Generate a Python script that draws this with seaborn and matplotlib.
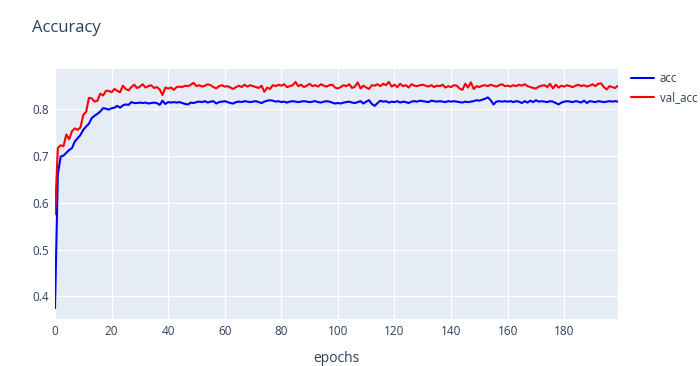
import numpy as np
import pandas as pd
import matplotlib
matplotlib.use("Agg")
import matplotlib.pyplot as plt
import seaborn as sns

acc = [
    0.375, 0.660, 0.698, 0.700, 0.706, 0.712, 0.716, 0.730, 0.737, 0.744,
    0.755, 0.762, 0.768, 0.780, 0.785, 0.789, 0.794, 0.801, 0.800, 0.798,
    0.801, 0.802, 0.806, 0.802, 0.807, 0.809, 0.808, 0.814, 0.812, 0.812,
    0.813, 0.812, 0.813, 0.811, 0.812, 0.813, 0.812, 0.808, 0.817, 0.810,
    0.814, 0.813, 0.814, 0.813, 0.814, 0.812, 0.810, 0.809, 0.813, 0.812,
    0.814, 0.815, 0.814, 0.816, 0.813, 0.815, 0.816, 0.811, 0.814, 0.815,
    0.816, 0.814, 0.812, 0.811, 0.814, 0.815, 0.814, 0.816, 0.815, 0.814,
    0.815, 0.816, 0.814, 0.812, 0.815, 0.817, 0.818, 0.817, 0.815, 0.816,
    0.814, 0.815, 0.813, 0.815, 0.816, 0.815, 0.814, 0.815, 0.816, 0.815,
    0.814, 0.815, 0.816, 0.814, 0.813, 0.815, 0.816, 0.815, 0.813, 0.811,
    0.812, 0.811, 0.813, 0.814, 0.815, 0.813, 0.812, 0.814, 0.816, 0.811,
    0.815, 0.818, 0.810, 0.806, 0.812, 0.817, 0.815, 0.816, 0.813, 0.815,
    0.814, 0.816, 0.813, 0.815, 0.814, 0.812, 0.815, 0.816, 0.815, 0.817,
    0.816, 0.815, 0.814, 0.817, 0.816, 0.815, 0.816, 0.815, 0.814, 0.816,
    0.815, 0.816, 0.815, 0.814, 0.813, 0.815, 0.814, 0.815, 0.816, 0.818,
    0.817, 0.819, 0.821, 0.824, 0.818, 0.809, 0.815, 0.816, 0.815, 0.816,
    0.815, 0.816, 0.814, 0.816, 0.815, 0.812, 0.816, 0.813, 0.817, 0.814,
    0.818, 0.815, 0.816, 0.815, 0.814, 0.816, 0.815, 0.812, 0.809, 0.813,
    0.815, 0.816, 0.815, 0.814, 0.816, 0.815, 0.813, 0.817, 0.812, 0.816,
    0.815, 0.814, 0.816, 0.815, 0.814, 0.815, 0.816, 0.815, 0.816, 0.815,
]

val_acc = [
    0.575, 0.716, 0.722, 0.720, 0.745, 0.735, 0.752, 0.758, 0.755, 0.760,
    0.787, 0.793, 0.823, 0.822, 0.815, 0.817, 0.832, 0.828, 0.838, 0.838,
    0.835, 0.842, 0.838, 0.835, 0.849, 0.842, 0.839, 0.846, 0.851, 0.844,
    0.847, 0.852, 0.845, 0.848, 0.850, 0.844, 0.846, 0.841, 0.829, 0.845,
    0.843, 0.845, 0.840, 0.846, 0.847, 0.846, 0.849, 0.848, 0.851, 0.855,
    0.848, 0.850, 0.847, 0.849, 0.852, 0.850, 0.846, 0.843, 0.848, 0.850,
    0.847, 0.848, 0.845, 0.842, 0.846, 0.849, 0.846, 0.851, 0.847, 0.850,
    0.848, 0.846, 0.844, 0.849, 0.836, 0.845, 0.842, 0.850, 0.848, 0.851,
    0.849, 0.852, 0.846, 0.848, 0.850, 0.857, 0.848, 0.851, 0.846, 0.849,
    0.853, 0.848, 0.850, 0.847, 0.852, 0.849, 0.847, 0.850, 0.851, 0.845,
    0.843, 0.846, 0.850, 0.848, 0.852, 0.844, 0.847, 0.856, 0.843, 0.849,
    0.845, 0.842, 0.850, 0.849, 0.852, 0.848, 0.853, 0.850, 0.857, 0.847,
    0.851, 0.846, 0.853, 0.848, 0.850, 0.845, 0.852, 0.849, 0.848, 0.850,
    0.851, 0.849, 0.847, 0.850, 0.846, 0.849, 0.848, 0.851, 0.845, 0.848,
    0.846, 0.850, 0.849, 0.843, 0.840, 0.853, 0.845, 0.856, 0.842, 0.848,
    0.846, 0.849, 0.850, 0.848, 0.851, 0.849, 0.847, 0.850, 0.852, 0.848,
    0.849, 0.847, 0.850, 0.848, 0.851, 0.849, 0.852, 0.848, 0.846, 0.844,
    0.843, 0.847, 0.849, 0.850, 0.846, 0.853, 0.843, 0.851, 0.845, 0.849,
    0.847, 0.850, 0.848, 0.846, 0.849, 0.851, 0.848, 0.850, 0.847, 0.849,
    0.852, 0.848, 0.853, 0.854, 0.846, 0.841, 0.848, 0.846, 0.844, 0.849,
]

epochs = list(range(len(acc)))
series_names = ["acc", "val_acc"]
colors = ["#0000ff", "#ff0000"]
x_ticks = [0, 20, 40, 60, 80, 100, 120, 140, 160, 180]
y_ticks = [0.4, 0.5, 0.6, 0.7, 0.8]

df = pd.DataFrame({
    "epochs": epochs * 2,
    "value": acc + val_acc,
    "series": [series_names[0]] * len(acc) + [series_names[1]] * len(val_acc),
})

sns.set_theme(style="darkgrid")
plt.rcParams["font.family"] = ["Open Sans", "DejaVu Sans"]

fig = plt.figure(figsize=(7, 3.66), dpi=100)
ax = fig.add_axes([55 / 700, 1 - 319 / 366, (618 - 55) / 700, (319 - 69) / 366])
ax.set_facecolor("#E5ECF6")

sns.lineplot(data=df, x="epochs", y="value", hue="series",
             palette=dict(zip(series_names, colors)), linewidth=1.5, ax=ax)

ax.set_xlim(0, 199)
ax.set_ylim(0.352, 0.8845)
ax.set_xticks(x_ticks)
ax.set_yticks(y_ticks)
ax.set_yticklabels([f"{v:.1f}" for v in y_ticks])
ax.grid(True, color="white", linewidth=1)
for s in ax.spines.values():
    s.set_visible(False)
ax.tick_params(axis="both", length=0, labelsize=8.5, colors="#2a3f5f", pad=4)
ax.set_xlabel("epochs", fontsize=10, color="#2a3f5f", labelpad=10)
ax.set_ylabel("")

handles, labels = ax.get_legend_handles_labels()
ax.legend_.remove()
fig.legend(handles, labels, loc="upper left", bbox_to_anchor=(631 / 700, 1 - 72 / 366),
           frameon=False, fontsize=8.3, labelcolor="#2a3f5f", handlelength=2.0,
           handletextpad=0.5, labelspacing=0.5, borderaxespad=0, borderpad=0)

fig.text(32 / 700, 1 - 28 / 366, "Accuracy", fontsize=12, color="#2a3f5f", va="center", ha="left")

fig.savefig("out.png", dpi=100)
